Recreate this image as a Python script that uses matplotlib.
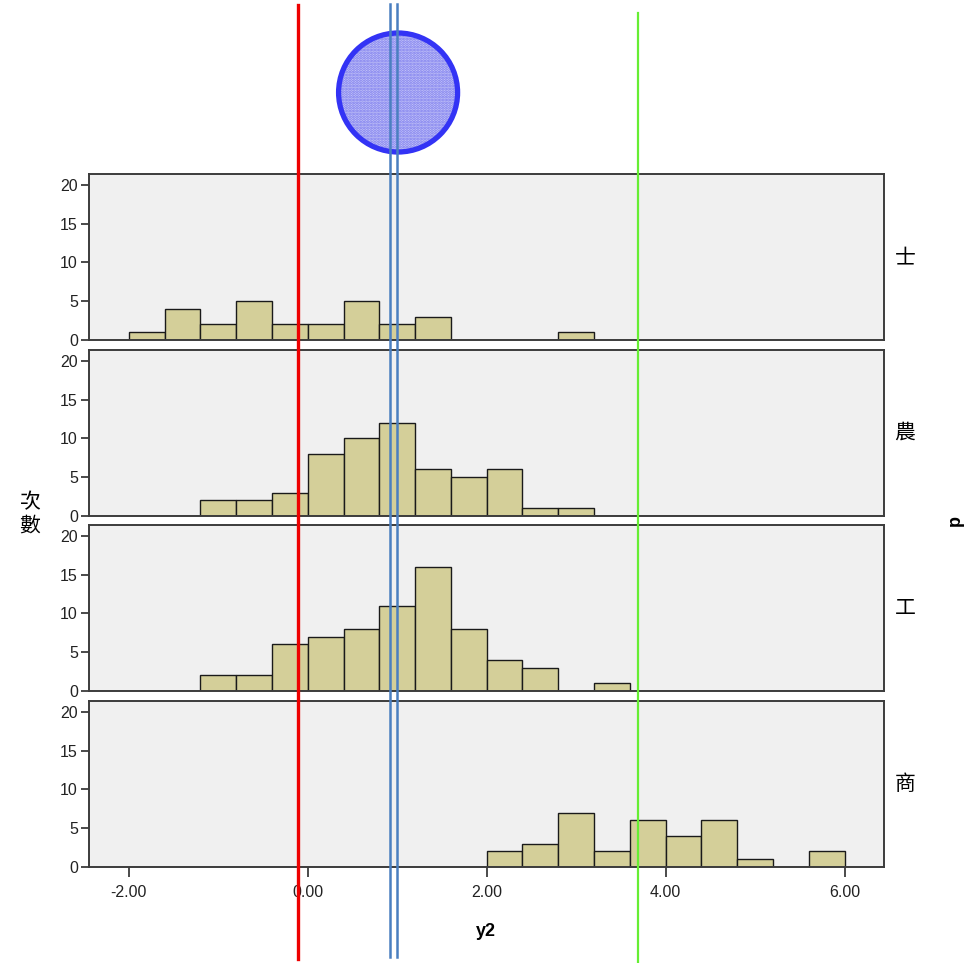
import matplotlib.pyplot as plt
import matplotlib.transforms as mtransforms
from matplotlib.patches import Circle
from matplotlib.lines import Line2D

plt.rcParams['font.family'] = ['Liberation Sans', 'Noto Sans CJK TC', 'DejaVu Sans']

# 히스토그램 구간 (왼쪽 끝, 폭 0.4)
bin_lefts = [-2.0, -1.6, -1.2, -0.8, -0.4, 0.0, 0.4, 0.8, 1.2, 1.6,
             2.0, 2.4, 2.8, 3.2, 3.6, 4.0, 4.4, 4.8, 5.2, 5.6]
bin_width = 0.4

groups = ['士', '農', '工', '商']
counts_shi = [1, 4, 2, 5, 2, 2, 5, 2, 3, 0, 0, 0, 1, 0, 0, 0, 0, 0, 0, 0]
counts_nong = [0, 0, 2, 2, 3, 8, 10, 12, 6, 5, 6, 1, 1, 0, 0, 0, 0, 0, 0, 0]
counts_gong = [0, 0, 2, 2, 6, 7, 8, 11, 16, 8, 4, 3, 0, 1, 0, 0, 0, 0, 0, 0]
counts_shang = [0, 0, 0, 0, 0, 0, 0, 0, 0, 0, 2, 3, 7, 2, 6, 4, 6, 1, 0, 2]
all_counts = [counts_shi, counts_nong, counts_gong, counts_shang]

x_ticks = [-2.0, 0.0, 2.0, 4.0, 6.0]
y_ticks = [0, 5, 10, 15, 20]

# 겹쳐 그린 기준선들
red_x = -0.105
blue_xs = [0.92, 1.0]
green_x = 3.687
circle_x = 1.01

fig = plt.figure(figsize=(9.78, 9.63), dpi=100)

panel_tops = [174, 350, 525, 701]
panel_h = 166
frame_col = '#3c3c3c'
axes = []
for i, (g, counts) in enumerate(zip(groups, all_counts)):
    top = panel_tops[i]
    ax = fig.add_axes([89 / 978, 1 - (top + panel_h) / 963, 795 / 978, panel_h / 963])
    ax.set_facecolor('#f0f0f0')
    ax.bar(bin_lefts, counts, width=bin_width, align='edge',
           color='#d4cf99', edgecolor='#1a1a1a', linewidth=1.0, zorder=2)
    ax.set_xlim(-2.444, 6.44)
    ax.set_ylim(0, 21.4)
    ax.set_yticks(y_ticks)
    ax.set_xticks(x_ticks)
    for s in ax.spines.values():
        s.set_color(frame_col)
        s.set_linewidth(1.4)
    ax.tick_params(axis='y', direction='out', length=6, width=1.3, color=frame_col,
                   labelsize=11.5, labelcolor='#222222', pad=2)
    if i < 3:
        ax.tick_params(axis='x', length=0, labelbottom=False)
    else:
        ax.tick_params(axis='x', direction='out', length=7, width=1.3, color=frame_col,
                       labelsize=11.5, labelcolor='#222222', pad=6)
        ax.set_xticklabels([f'{v:.2f}' for v in x_ticks])
    fig.text(905 / 978, 1 - (top + panel_h / 2) / 963, g, fontsize=15,
             ha='center', va='center', family=['Noto Sans CJK TC'])
    axes.append(ax)

ax0 = axes[0]
blend = mtransforms.blended_transform_factory(ax0.transData, fig.transFigure)

fig.text(30 / 978, 1 - 514 / 963, '次\n數', fontsize=15, ha='center', va='center',
         family=['Noto Sans CJK TC'], linespacing=1.05)
fig.text(486 / 978, 1 - 931 / 963, 'y2', fontsize=13, fontweight='bold',
         ha='center', va='center')
fig.text(955 / 978, 1 - 520 / 963, 'p', fontsize=13, fontweight='bold',
         ha='center', va='center', rotation=90)

# 원
circ_trans = fig.dpi_scale_trans + mtransforms.ScaledTranslation(circle_x, 1 - 92.5 / 963, blend)
plt.rcParams['hatch.linewidth'] = 1.4
fill = Circle((0, 0), 0.595, transform=circ_trans, facecolor='#c8c8f8',
              edgecolor='#7777ee', hatch='......', linewidth=0, zorder=1)
fig.add_artist(fill)
ring = Circle((0, 0), 0.595, transform=circ_trans, facecolor='none',
              edgecolor='#3333f5', linewidth=3.8, zorder=2)
fig.add_artist(ring)

# 세로선
fig.add_artist(Line2D([red_x, red_x], [1 - 5 / 963, 1 - 959 / 963], transform=blend,
                      color='#ee0000', linewidth=2.4, zorder=5))
for bx in blue_xs:
    fig.add_artist(Line2D([bx, bx], [1 - 4 / 963, 1 - 957 / 963], transform=blend,
                          color='#4a7fc0', linewidth=1.8, zorder=5))
fig.add_artist(Line2D([green_x, green_x], [1 - 13 / 963, 0.0], transform=blend,
                      color='#66ee33', linewidth=1.6, zorder=5))

fig.savefig('out.png', dpi=100)
